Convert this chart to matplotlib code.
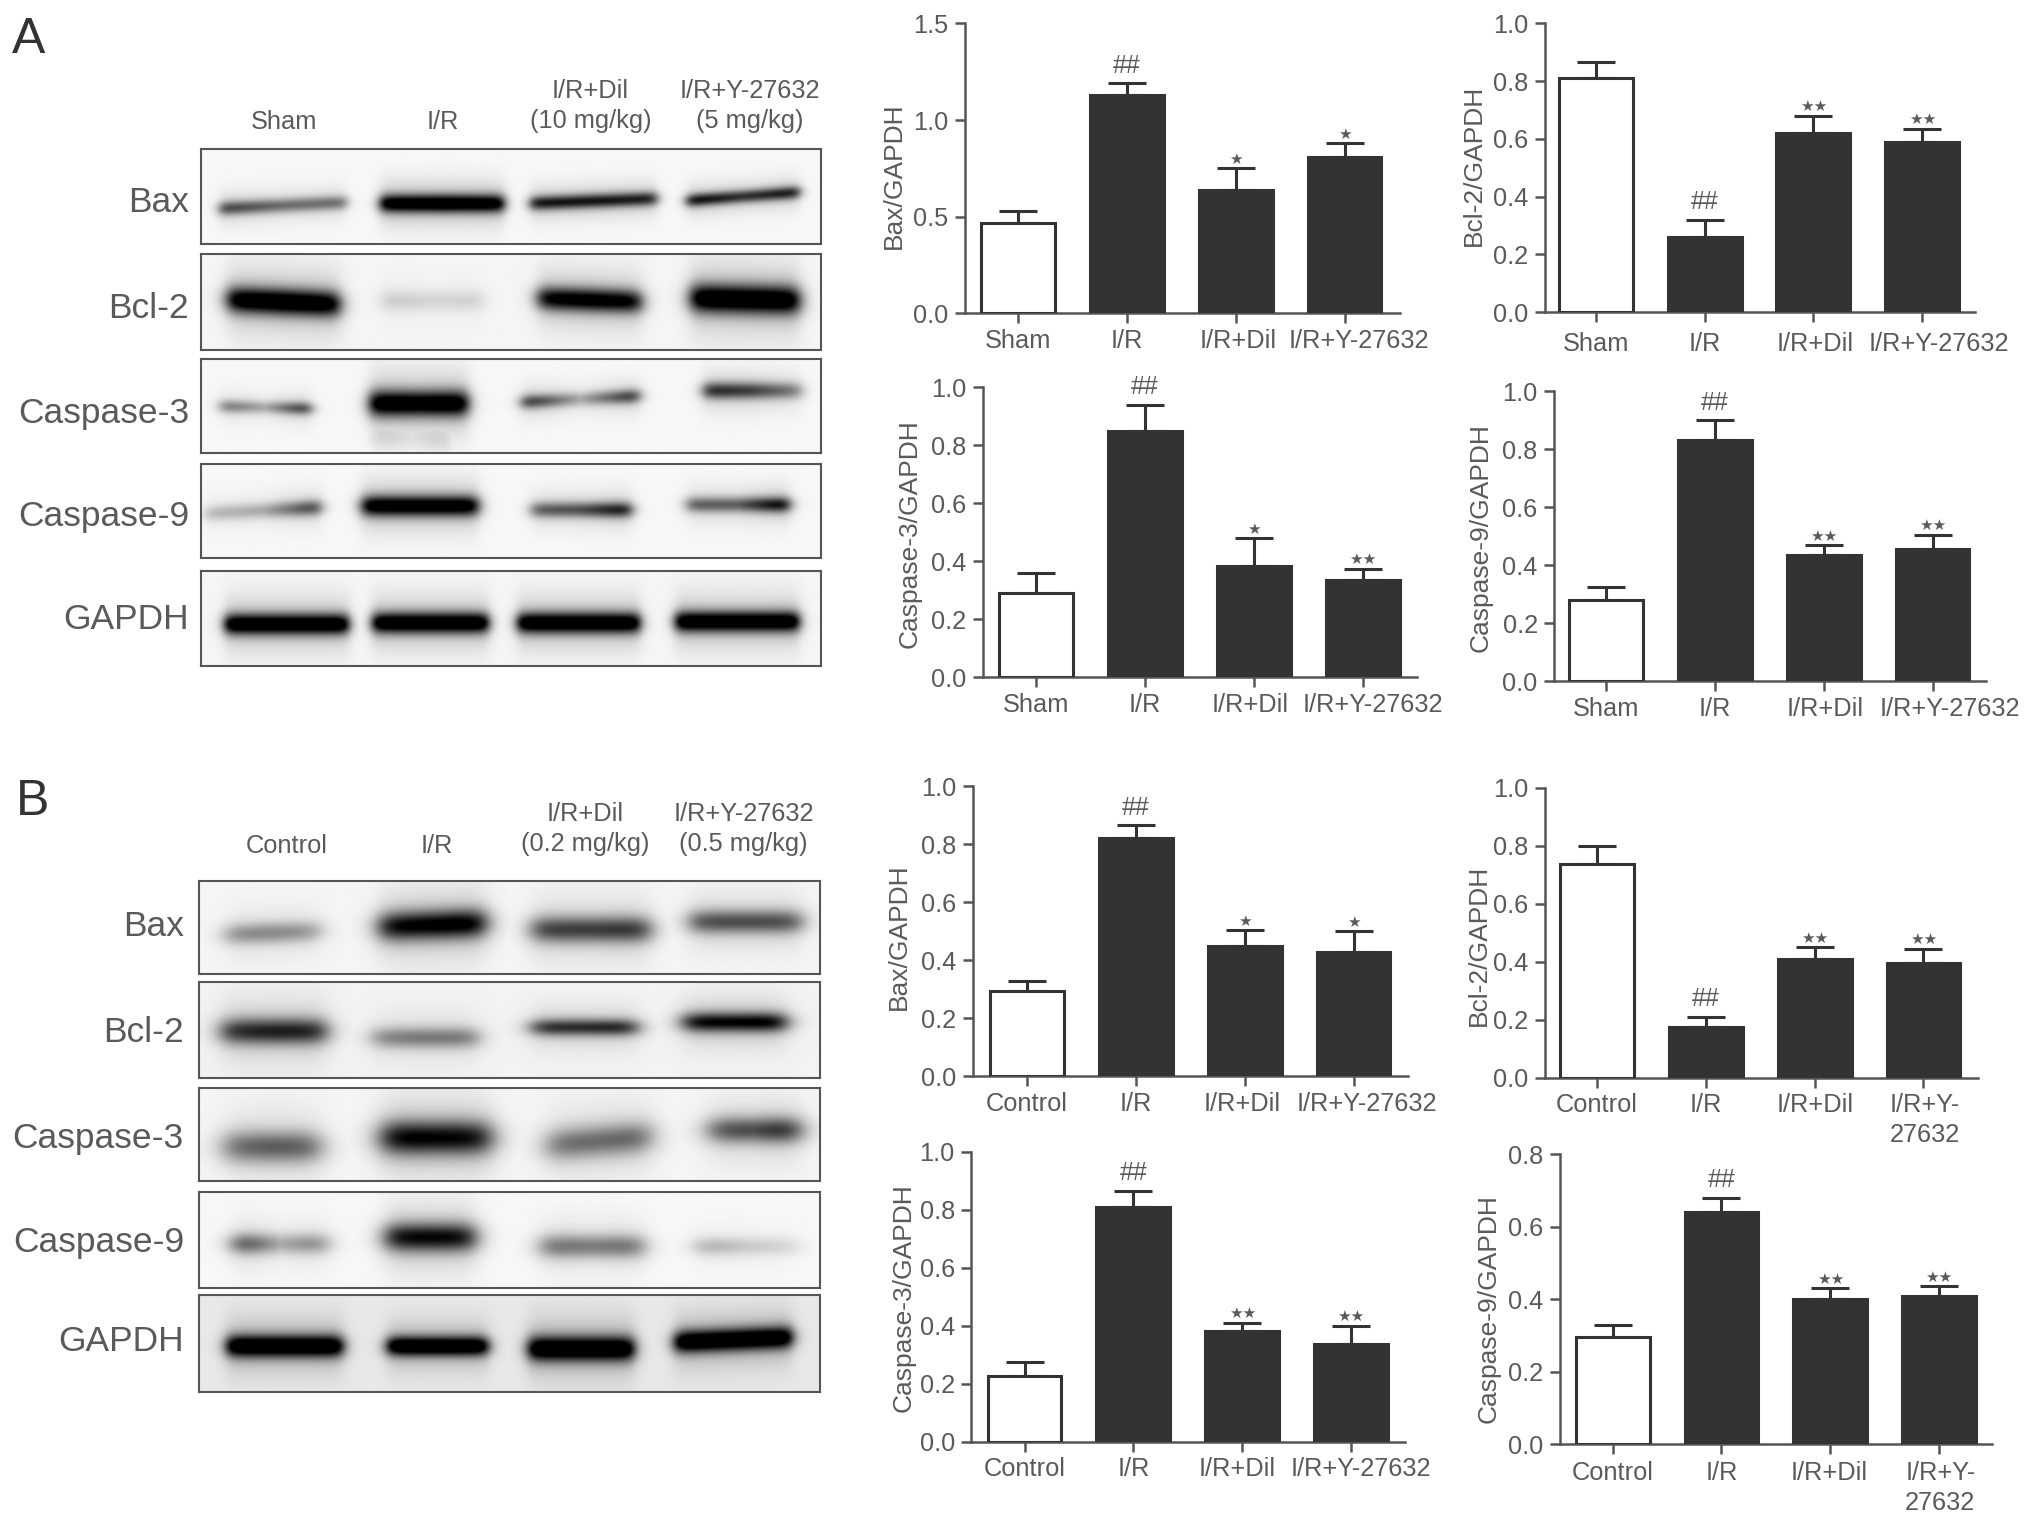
import numpy as np
import matplotlib
matplotlib.use("Agg")
import matplotlib.pyplot as plt
from matplotlib.transforms import ScaledTranslation

plt.rcParams['font.family'] = ['Liberation Sans', 'DejaVu Sans']

# Reference was read at 1568 wide, all layout numbers below are in that scale
S = 2031 / 1568.0
W, H = 2031, 1525

# ---- bar chart data ----
groups_a = ['Sham', 'I/R', 'I/R+Dil', 'I/R+Y-27632']
groups_b = ['Control', 'I/R', 'I/R+Dil', 'I/R+Y-27632']
groups_b2 = ['Control', 'I/R', 'I/R+Dil', 'I/R+Y-\n27632']

bax_a = [0.47, 1.13, 0.64, 0.81]
bax_a_err = [0.06, 0.06, 0.11, 0.07]
bcl_a = [0.81, 0.26, 0.62, 0.59]
bcl_a_err = [0.055, 0.06, 0.06, 0.045]
cas3_a = [0.29, 0.85, 0.385, 0.335]
cas3_a_err = [0.07, 0.09, 0.095, 0.04]
cas9_a = [0.28, 0.83, 0.435, 0.455]
cas9_a_err = [0.045, 0.07, 0.035, 0.05]

bax_b = [0.295, 0.82, 0.45, 0.43]
bax_b_err = [0.035, 0.045, 0.055, 0.07]
bcl_b = [0.735, 0.175, 0.41, 0.395]
bcl_b_err = [0.065, 0.035, 0.04, 0.05]
cas3_b = [0.225, 0.81, 0.38, 0.335]
cas3_b_err = [0.05, 0.055, 0.03, 0.065]
cas9_b = [0.295, 0.64, 0.40, 0.41]
cas9_b_err = [0.035, 0.04, 0.03, 0.025]

marks_bax_a = ['', '##', '*', '*']
marks_bcl_a = ['', '##', '**', '**']
marks_cas3_a = ['', '##', '*', '**']
marks_cas9_a = ['', '##', '**', '**']
marks_bax_b = ['', '##', '*', '*']
marks_rest_b = ['', '##', '**', '**']

# name, values, errors, ymax, yticks, labels, marks, axis x, right x, top y, bottom y,
# first bar centre, ylabel x, ylabel y, shift of 3rd and 4th tick label, tick label pad
panels = [
    ('Bax/GAPDH', bax_a, bax_a_err, 1.5, [0, 0.5, 1.0, 1.5], groups_a, marks_bax_a,
     745, 1081, 18, 242, 786, 690, 136, (2, 11), 4),
    ('Bcl-2/GAPDH', bcl_a, bcl_a_err, 1.0, [0, 0.2, 0.4, 0.6, 0.8, 1.0], groups_a, marks_bcl_a,
     1193, 1525, 18, 241, 1232, 1138, 128, (1, 13), 7),
    ('Caspase-3/GAPDH', cas3_a, cas3_a_err, 1.0, [0, 0.2, 0.4, 0.6, 0.8, 1.0], groups_a, marks_cas3_a,
     759, 1094, 299, 523, 800, 702, 412, (-3, 8), 4),
    ('Caspase-9/GAPDH', cas9_a, cas9_a_err, 1.0, [0, 0.2, 0.4, 0.6, 0.8, 1.0], groups_a, marks_cas9_a,
     1200, 1533, 302, 526, 1240, 1143, 415, (1, 13), 4),
    ('Bax/GAPDH', bax_b, bax_b_err, 1.0, [0, 0.2, 0.4, 0.6, 0.8, 1.0], groups_b, marks_bax_b,
     751, 1087, 607, 831, 793, 694, 723, (-2, 10), 4),
    ('Bcl-2/GAPDH', bcl_b, bcl_b_err, 1.0, [0, 0.2, 0.4, 0.6, 0.8, 1.0], groups_b2, marks_rest_b,
     1193, 1527, 608, 832, 1233, 1142, 730, (0, 1), 4),
    ('Caspase-3/GAPDH', cas3_b, cas3_b_err, 1.0, [0, 0.2, 0.4, 0.6, 0.8, 1.0], groups_b, marks_rest_b,
     750, 1085, 889, 1113, 791, 698, 1002, (-4, 8), 4),
    ('Caspase-9/GAPDH', cas9_b, cas9_b_err, 0.8, [0, 0.2, 0.4, 0.6, 0.8], groups_b2, marks_rest_b,
     1204, 1538, 891, 1115, 1245, 1149, 1010, (-1, 1), 5),
]
PITCH = 84.0
BAR_W = 57.0

# ---- blot bands: x start, x end, y start, y end, thickness, dark left, dark mid, dark right ----
blot_a_names = ['Bax', 'Bcl-2', 'Caspase-3', 'Caspase-9', 'GAPDH']
blot_a_rows = [(115, 188), (196, 270), (277, 350), (358, 431), (441, 514)]
blot_a_label_y = [156, 238, 319, 399, 478]
blot_a_bg = [0.97, 0.96, 0.97, 0.97, 0.96]
blot_a_blur = [2.5, 3.5, 3, 3, 2.5]
blot_a_bands = [
    [(166, 270, 161, 156, 5.5, .6, .45, .45), (290, 392, 157, 157, 7, .95, 1, .95),
     (406, 510, 157, 153, 5.5, .75, .75, .7), (527, 620, 155, 148, 5, .8, .65, .75)],
    [(172, 265, 231, 235, 10, .95, 1, .95), (292, 375, 232, 232, 8, .15, .1, .12),
     (412, 498, 230, 233, 9, .85, .9, .85), (530, 620, 230, 232, 11, 1, 1, 1)],
    [(167, 242, 314, 316, 5, .45, .25, .7), (282, 364, 312, 312, 10, 1, .95, 1),
     (285, 350, 336, 338, 11, .16, .08, .16), (400, 496, 311, 306, 5.5, .7, .25, .7),
     (540, 622, 302, 302, 6.5, .7, .6, .35)],
    [(155, 250, 397, 392, 6, .2, .25, .65), (276, 372, 391, 391, 8, .95, .95, .95),
     (407, 490, 394, 394, 6, .5, .55, .8), (527, 612, 390, 390, 6, .5, .5, .9)],
    [(170, 272, 482, 482, 8, 1, 1, 1), (284, 380, 481, 481, 8, 1, 1, 1),
     (396, 497, 481, 481, 8, 1, 1, 1), (518, 620, 480, 480, 8, 1, 1, 1)],
]
blot_b_names = ['Bax', 'Bcl-2', 'Caspase-3', 'Caspase-9', 'GAPDH']
blot_b_rows = [(680, 752), (758, 832), (840, 912), (920, 994), (1000, 1075)]
blot_b_label_y = [715, 797, 879, 959, 1036]
blot_b_bg = [0.96, 0.95, 0.96, 0.97, 0.91]
blot_b_blur = [5, 5, 6, 5, 3]
blot_b_bands = [
    [(172, 250, 722, 719, 8, .35, .35, .3), (290, 378, 716, 713, 11, .8, .85, .9),
     (408, 505, 718, 718, 10, .6, .6, .65), (530, 622, 712, 712, 9, .55, .55, .55)],
    [(168, 255, 796, 796, 10, .65, .7, .7), (285, 372, 801, 801, 8, .35, .4, .4),
     (408, 495, 793, 793, 6.5, .65, .65, .7), (525, 610, 789, 789, 7.5, .8, .8, .85)],
    [(170, 250, 886, 886, 12, .45, .5, .5), (292, 382, 879, 879, 13, .85, .8, .8),
     (420, 505, 885, 878, 12, .45, .45, .5), (545, 620, 873, 873, 10, .55, .55, .75)],
    [(178, 255, 960, 960, 8, .65, .25, .4), (295, 370, 955, 955, 11, .8, .8, .8),
     (415, 500, 962, 962, 9, .45, .4, .45), (535, 620, 962, 962, 7, .25, .15, .1)],
    [(172, 268, 1040, 1040, 8.5, 1, 1, 1), (296, 380, 1040, 1040, 7.5, 1, 1, 1),
     (405, 493, 1042, 1042, 9.5, 1, 1, 1), (518, 615, 1037, 1033, 8.5, 1, 1, 1)],
]

# lane headers: text, x centre, y centre
head_a = [('Sham', 219, 94), ('I/R', 342, 94), ('I/R+Dil\n(10 mg/kg)', 456, 82), ('I/R+Y-27632\n(5 mg/kg)', 579, 82)]
head_b = [('Control', 221, 653), ('I/R', 337, 653), ('I/R+Dil\n(0.2 mg/kg)', 452, 640), ('I/R+Y-27632\n(0.5 mg/kg)', 574, 640)]

GREY = '#5a5a5a'
DARK = '#333333'

fig = plt.figure(figsize=(W / 100.0, H / 100.0), dpi=100, facecolor='white')


def add_axes_px(x0, x1, top, bottom):
    return fig.add_axes([x0 * S / W, 1 - bottom * S / H, (x1 - x0) * S / W, (bottom - top) * S / H])


def draw_blot(x0, x1, row, bg, blur, bands, name, label_x, label_y):
    y0, y1 = row
    nx = int((x1 - x0) * S)
    ny = int((y1 - y0) * S)
    xx = np.linspace(x0, x1, nx)
    yy = np.linspace(y0, y1, ny)
    X, Y = np.meshgrid(xx, yy)
    img = np.zeros_like(X)
    for xa, xb, ya, yb, t, da, dm, db in bands:
        frac = np.clip((X - xa) / float(xb - xa), 0, 1)
        yc = ya + (yb - ya) * frac
        dk = np.interp(frac, [0, 0.5, 1], [da, dm, db])
        edge = 1 / (1 + np.exp((xa + 3 - X) / blur)) / (1 + np.exp((X - xb + 3) / blur))
        core = np.exp(-((Y - yc) / t) ** 2)
        halo = np.exp(-((Y - yc) / (t * 2.6)) ** 2) * 0.2
        img = np.maximum(img, dk * edge * (core + halo))
    img = np.clip(bg - img, 0, 1)
    ax = add_axes_px(x0, x1, y0, y1)
    ax.imshow(img, cmap='gray', vmin=0, vmax=1, aspect='auto', interpolation='bilinear')
    ax.set_xticks([])
    ax.set_yticks([])
    for sp in ax.spines.values():
        sp.set_color('#555555')
        sp.set_linewidth(1.5)
    fig.text(label_x * S / W, 1 - label_y * S / H, name, ha='right', va='center',
             fontsize=25.5, color=GREY)


for i in range(5):
    draw_blot(155, 634, blot_a_rows[i], blot_a_bg[i], blot_a_blur[i], blot_a_bands[i],
              blot_a_names[i], 146, blot_a_label_y[i])
    draw_blot(154, 633, blot_b_rows[i], blot_b_bg[i], blot_b_blur[i], blot_b_bands[i],
              blot_b_names[i], 142, blot_b_label_y[i])

for txt, x, y in head_a + head_b:
    fig.text(x * S / W, 1 - y * S / H, txt, ha='center', va='center', fontsize=18.3,
             color=GREY, linespacing=1.3)

fig.text(22 * S / W, 1 - 31 * S / H, 'A', ha='center', va='center', fontsize=36, color=DARK)
fig.text(25 * S / W, 1 - 619 * S / H, 'B', ha='center', va='center', fontsize=36, color=DARK)

for p in panels:
    ylab, vals, errs, ymax, yticks, labels, marks, x0, x1, top, bottom, c0, lab_x, lab_y, shift, pad = p
    ax = add_axes_px(x0, x1, top, bottom)
    pos = np.arange(len(vals))
    colors = ['white', DARK, DARK, DARK]
    ax.bar(pos, vals, width=BAR_W / PITCH, color=colors, edgecolor=DARK, linewidth=2.2, zorder=3)
    lower = np.zeros(len(vals))
    ax.errorbar(pos, vals, yerr=[lower, errs], fmt='none', ecolor=DARK, elinewidth=2.2,
                capsize=13.5, capthick=2.2, zorder=2)
    for i, m in enumerate(marks):
        if m == '':
            continue
        y = vals[i] + errs[i]
        if m == '##':
            ax.annotate(m, (i, y), xytext=(0, 4), textcoords='offset points', ha='center',
                        va='bottom', fontsize=18, color=GREY)
        else:
            ax.annotate('★' * len(m), (i, y), xytext=(0, 1), textcoords='offset points', ha='center',
                        va='bottom', fontsize=11, color=GREY, family='DejaVu Sans')
    ax.set_xlim(-(c0 - x0) / PITCH, 3 + (x1 - (c0 + 3 * PITCH)) / PITCH)
    ax.set_ylim(0, ymax)
    ax.set_xticks(pos)
    ax.set_xticklabels(labels, fontsize=18.3, color=GREY, linespacing=1.3)
    ax.set_yticks(yticks)
    ax.set_yticklabels(['%.1f' % t for t in yticks], fontsize=18.3, color=GREY)
    ax.tick_params(axis='both', length=7, width=1.8, color='#555555')
    ax.tick_params(axis='x', pad=pad)
    ax.tick_params(axis='y', pad=5)
    # long group names sit off their tick in the reference
    xlabs = ax.get_xticklabels()
    for k, dx in zip([2, 3], shift):
        xlabs[k].set_transform(xlabs[k].get_transform() + ScaledTranslation(dx * S / 100.0, 0, fig.dpi_scale_trans))
    ax.spines['top'].set_visible(False)
    ax.spines['right'].set_visible(False)
    ax.spines['left'].set_color('#555555')
    ax.spines['bottom'].set_color('#555555')
    ax.spines['left'].set_linewidth(1.8)
    ax.spines['bottom'].set_linewidth(1.8)
    ax.patch.set_alpha(0)
    fig.text(lab_x * S / W, 1 - lab_y * S / H, ylab, rotation=90, ha='center', va='center',
             fontsize=19, color=GREY)

fig.savefig('out.png', dpi=100, facecolor='white')
